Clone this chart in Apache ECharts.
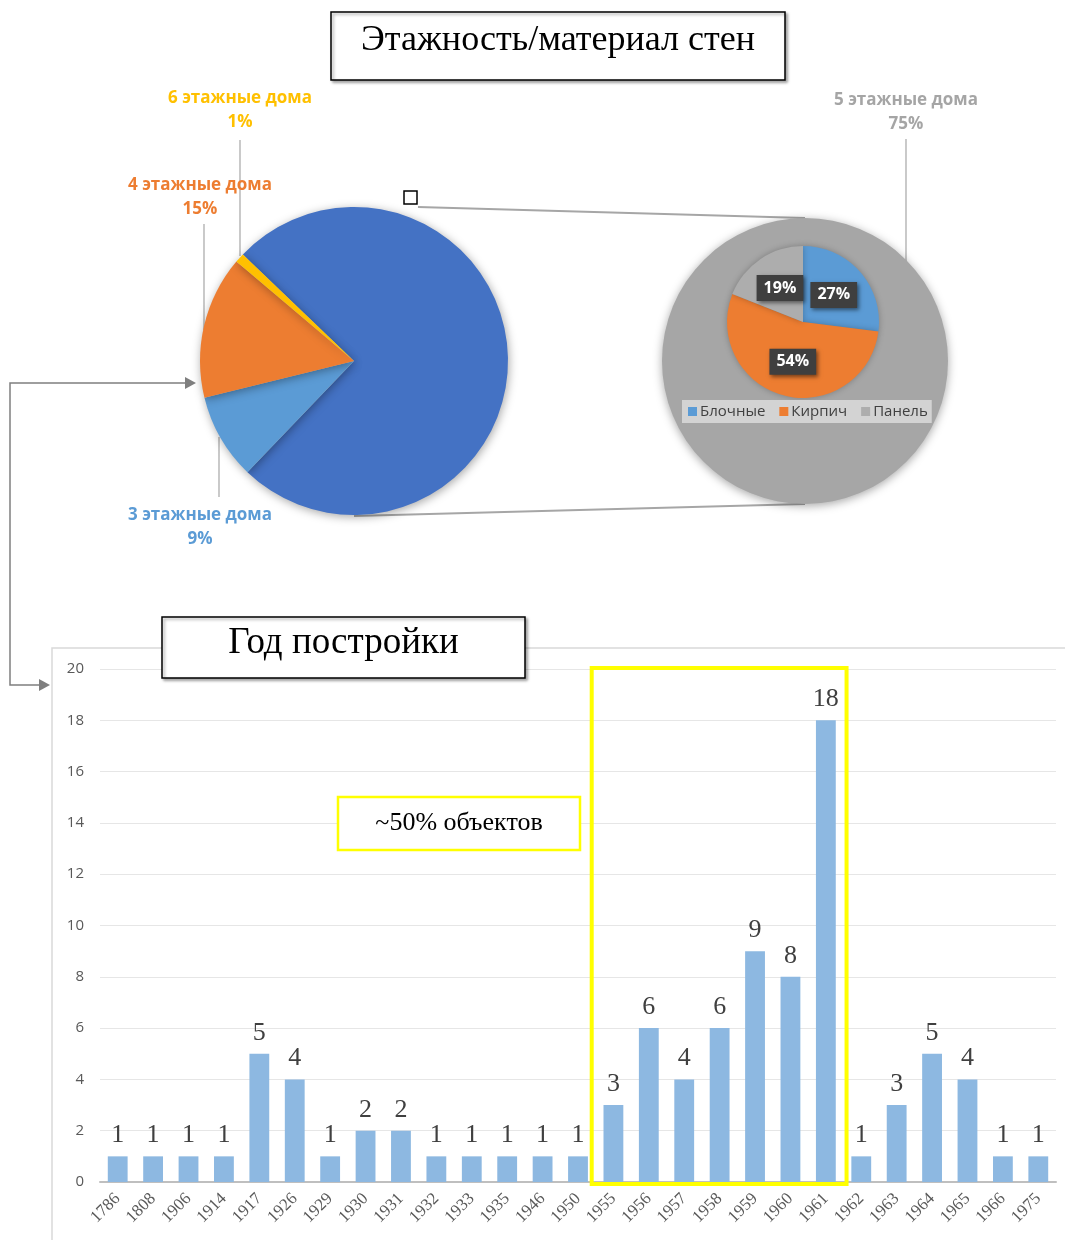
<!DOCTYPE html>
<html>
<head>
<meta charset="utf-8">
<script src="https://cdn.jsdelivr.net/npm/echarts@6/dist/echarts.min.js"></script>
<style>
  html, body { margin: 0; padding: 0; background: #fff; }
  #chart { width: 1065px; height: 1240px; }
</style>
</head>
<body>
<div id="chart"></div>
<script>
// этажность (левый круг)
var floorNames = ['5 этажные дома', '3 этажные дома', '4 этажные дома', '6 этажные дома'];
var floorShare = [75, 9, 15, 1];
var floorColors = ['#4472C4', '#5B9BD5', '#ED7D31', '#FFC000'];
var floorLabelColors = ['#A5A5A5', '#5B9BD5', '#ED7D31', '#FFC000'];

// материал стен (правый круг)
var wallNames = ['Блочные', 'Кирпич', 'Панель'];
var wallShare = [27, 54, 19];
var wallColors = ['#5B9BD5', '#ED7D31', '#ADADAD'];

// год постройки
var years = ['1786', '1808', '1906', '1914', '1917', '1926', '1929', '1930', '1931', '1932',
  '1933', '1935', '1946', '1950', '1955', '1956', '1957', '1958', '1959', '1960', '1961',
  '1962', '1963', '1964', '1965', '1966', '1975'];
var houses = [1, 1, 1, 1, 5, 4, 1, 2, 2, 1, 1, 1, 1, 1, 3, 6, 4, 6, 9, 8, 18, 1, 3, 5, 4, 1, 1];

var chart = echarts.init(document.getElementById('chart'));

// где стоят подписи левого круга
var floorLabelPos = [
  { x: 906, y: 112 },
  { x: 200, y: 527 },
  { x: 200, y: 197 },
  { x: 240, y: 110 }
];

var serif = '"Liberation Serif", "Times New Roman", serif';
var sans = '"Open Sans", "Noto Sans", sans-serif';

function titleBox(x, y, w, h, text, size, dy) {
  return {
    type: 'group',
    z: 20,
    children: [
      {
        type: 'rect',
        shape: { x: x, y: y, width: w, height: h },
        style: { fill: '#fff', stroke: '#000', lineWidth: 1.5, shadowBlur: 3, shadowOffsetX: 2, shadowOffsetY: 2, shadowColor: 'rgba(0,0,0,0.35)' }
      },
      {
        type: 'text',
        x: x + w / 2,
        y: y + h / 2 + dy,
        style: { text: text, font: size + 'px ' + serif, fill: '#000', align: 'center', verticalAlign: 'middle' }
      }
    ]
  };
}

chart.setOption({
  animation: false,
  grid: { left: 100, right: 9, top: 669, bottom: 58 },
  legend: {
    data: wallNames,
    left: 682,
    top: 400,
    padding: [4, 4, 4, 6],
    backgroundColor: '#D3D3D3',
    icon: 'rect',
    itemWidth: 9,
    itemHeight: 9,
    itemGap: 14,
    textStyle: { fontSize: 15, color: '#404040', fontFamily: sans, padding: [0, 0, 0, -2] }
  },
  xAxis: {
    type: 'category',
    data: years,
    axisLine: { lineStyle: { color: '#BFBFBF', width: 2 } },
    axisTick: { show: false },
    axisLabel: { rotate: 45, fontFamily: serif, fontSize: 17, color: '#595959', margin: 14, interval: 0 }
  },
  yAxis: {
    type: 'value',
    min: 0,
    max: 20,
    interval: 2,
    axisLine: { show: false },
    axisTick: { show: false },
    splitLine: { lineStyle: { color: '#E6E6E6' } },
    axisLabel: { fontFamily: sans, fontSize: 15, color: '#595959', margin: 16 }
  },
  series: [
    {
      name: 'Этажность',
      type: 'pie',
      center: [354, 361],
      radius: 154,
      startAngle: 136.2,
      clockwise: true,
      itemStyle: { shadowBlur: 10, shadowColor: 'rgba(0,0,0,0.35)', shadowOffsetX: 1, shadowOffsetY: 2 },
      label: {
        show: true,
        formatter: '{b}\n{d}%',
        fontFamily: sans,
        fontWeight: 'bold',
        fontSize: 17,
        lineHeight: 24
      },
      labelLine: { show: false },
      labelLayout: function (p) {
        var pos = floorLabelPos[p.dataIndex];
        return { x: pos.x, y: pos.y, align: 'center', verticalAlign: 'middle' };
      },
      data: floorNames.map(function (n, i) {
        return {
          name: n,
          value: floorShare[i],
          itemStyle: { color: floorColors[i] },
          label: { color: floorLabelColors[i] }
        };
      })
    },
    {
      name: 'фон',
      type: 'pie',
      silent: true,
      center: [805, 361],
      radius: 143,
      label: { show: false },
      labelLine: { show: false },
      itemStyle: { color: '#A6A6A6', shadowBlur: 10, shadowColor: 'rgba(0,0,0,0.35)', shadowOffsetY: 2 },
      data: [{ name: 'фон', value: 1 }]
    },
    {
      name: 'Материал стен',
      type: 'pie',
      center: [803, 322],
      radius: 76,
      startAngle: 90,
      itemStyle: { shadowBlur: 6, shadowColor: 'rgba(0,0,0,0.25)' },
      label: {
        show: true,
        position: 'inside',
        formatter: '{d}%',
        color: '#fff',
        fontFamily: sans,
        fontWeight: 'bold',
        fontSize: 16,
        backgroundColor: '#3F3F3F',
        padding: [5, 7],
        shadowBlur: 4,
        shadowColor: 'rgba(0,0,0,0.5)',
        shadowOffsetX: 2,
        shadowOffsetY: 2
      },
      labelLine: { show: false },
      data: wallNames.map(function (n, i) {
        return { name: n, value: wallShare[i], itemStyle: { color: wallColors[i] } };
      })
    },
    {
      name: 'Год постройки',
      type: 'bar',
      barWidth: '56%',
      itemStyle: { color: '#8DB8E1' },
      label: {
        show: true,
        position: 'top',
        distance: 8,
        fontFamily: serif,
        fontSize: 26,
        color: '#404040'
      },
      data: houses
    }
  ]
});

// рамка вокруг 1955-1961 по осям графика
var leftTop = chart.convertToPixel({ xAxisIndex: 0, yAxisIndex: 0 }, ['1955', 20]);
var rightBottom = chart.convertToPixel({ xAxisIndex: 0, yAxisIndex: 0 }, ['1961', 0]);
var band = chart.convertToPixel({ xAxisIndex: 0 }, '1956') - chart.convertToPixel({ xAxisIndex: 0 }, '1955');
var boxX1 = leftTop[0] - band / 2 - 4;
var boxX2 = rightBottom[0] + band / 2 + 3;

chart.setOption({
  graphic: [
    // рамка нижнего графика
    {
      type: 'rect',
      shape: { x: 52, y: 648, width: 1030, height: 620 },
      style: { fill: 'none', stroke: '#D9D9D9', lineWidth: 1.5 },
      z: -1
    },
    // линии-выноски
    { type: 'line', shape: { x1: 240, y1: 140, x2: 240, y2: 256 }, style: { stroke: '#A6A6A6', lineWidth: 1.2 } },
    { type: 'line', shape: { x1: 204, y1: 224, x2: 204, y2: 330 }, style: { stroke: '#A6A6A6', lineWidth: 1.2 } },
    { type: 'line', shape: { x1: 219, y1: 437, x2: 219, y2: 497 }, style: { stroke: '#A6A6A6', lineWidth: 1.2 } },
    { type: 'line', shape: { x1: 906, y1: 139, x2: 906, y2: 262 }, style: { stroke: '#A6A6A6', lineWidth: 1.2 } },
    // соединение кругов
    { type: 'line', shape: { x1: 418, y1: 207, x2: 805, y2: 218 }, style: { stroke: '#A6A6A6', lineWidth: 2 }, z: -1 },
    { type: 'line', shape: { x1: 354, y1: 516, x2: 805, y2: 504 }, style: { stroke: '#A6A6A6', lineWidth: 2 }, z: -1 },
    { type: 'rect', shape: { x: 404, y: 191, width: 13, height: 13 }, style: { fill: '#fff', stroke: '#000', lineWidth: 1.5 } },
    // стрелка
    { type: 'polyline', shape: { points: [[47, 685], [10, 685], [10, 383], [188, 383]] }, style: { stroke: '#7F7F7F', lineWidth: 1.5, fill: 'none' } },
    { type: 'polygon', shape: { points: [[185, 377], [196, 383], [185, 389]] }, style: { fill: '#7F7F7F' } },
    { type: 'polygon', shape: { points: [[39, 679], [50, 685], [39, 691]] }, style: { fill: '#7F7F7F' } },
    // заголовки
    titleBox(331, 12, 454, 68, 'Этажность/материал стен', 36, -5),
    titleBox(162, 617, 363, 61, 'Год постройки', 37, -4),
    // жёлтая рамка
    {
      type: 'rect',
      z: 15,
      shape: { x: boxX1, y: leftTop[1] - 1, width: boxX2 - boxX1, height: rightBottom[1] - leftTop[1] + 3 },
      style: { fill: 'none', stroke: '#FFFF00', lineWidth: 4 }
    },
    {
      type: 'group',
      z: 15,
      children: [
        { type: 'rect', shape: { x: 338, y: 797, width: 242, height: 53 }, style: { fill: '#fff', stroke: '#FFFF00', lineWidth: 2.5 } },
        { type: 'text', x: 459, y: 823, style: { text: '~50% объектов', font: '26px ' + serif, fill: '#000', align: 'center', verticalAlign: 'middle' } }
      ]
    }
  ]
});
</script>
</body>
</html>
